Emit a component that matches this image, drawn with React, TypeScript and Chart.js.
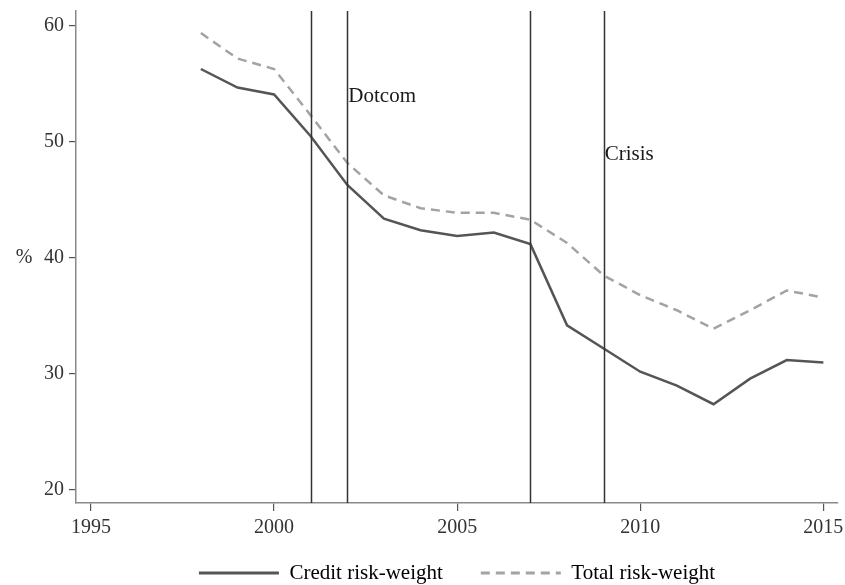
import { useEffect, useRef } from 'react';
import { Chart, registerables } from 'chart.js';

Chart.register(...registerables);

// values
const years = [1998, 1999, 2000, 2001, 2002, 2003, 2004, 2005, 2006, 2007, 2008, 2009, 2010, 2011, 2012, 2013, 2014, 2015];
const creditRW = [56.3, 54.7, 54.1, 50.5, 46.3, 43.4, 42.4, 41.9, 42.2, 41.2, 34.2, 32.2, 30.2, 29.0, 27.4, 29.6, 31.2, 31.0];
const totalRW = [59.4, 57.2, 56.3, 52.3, 48.2, 45.4, 44.3, 43.9, 43.9, 43.3, 41.3, 38.5, 36.8, 35.5, 33.9, 35.5, 37.2, 36.6];

const xTicks = [1995, 2000, 2005, 2010, 2015];
const yTicks = [20, 30, 40, 50, 60];

const eventYears = [2001, 2002, 2007, 2009];
const eventLabels = [
  { year: 2002, text: 'Dotcom', y: 53.9 },
  { year: 2009, text: 'Crisis', y: 48.9 }
];

const yTitle = '%';
const FONT = '"Liberation Serif", "Times New Roman", serif';

const eventPlugin = {
  id: 'events',
  afterLayout(chart: any) {
    // pull the legend up a little, closer to the axis labels
    if (chart.legend) {
      chart.legend.top -= 16.5;
      chart.legend.bottom -= 16.5;
    }
  },
  afterDatasetsDraw(chart: Chart) {
    const { ctx, chartArea, scales } = chart;
    const x = scales.x;
    const y = scales.y;
    ctx.save();
    ctx.strokeStyle = '#333333';
    ctx.lineWidth = 1.5;
    eventYears.forEach((yr) => {
      const px = Math.round(x.getPixelForValue(yr)) + 0.5;
      ctx.beginPath();
      ctx.moveTo(px, chartArea.top);
      ctx.lineTo(px, chartArea.bottom);
      ctx.stroke();
    });
    ctx.fillStyle = '#1a1a1a';
    ctx.font = `21px ${FONT}`;
    ctx.textAlign = 'left';
    ctx.textBaseline = 'middle';
    eventLabels.forEach((l) => {
      ctx.fillText(l.text, x.getPixelForValue(l.year) + 1, y.getPixelForValue(l.y));
    });
    // horizontal y-axis title
    ctx.fillStyle = '#333333';
    ctx.font = `20px ${FONT}`;
    ctx.textAlign = 'center';
    ctx.fillText(yTitle, 24, (chartArea.top + chartArea.bottom) / 2 + 1);
    ctx.restore();
  }
};

export default function App() {
  const canvasRef = useRef<HTMLCanvasElement>(null);
  const chartRef = useRef<Chart | null>(null);

  useEffect(() => {
    if (!canvasRef.current) {
      return;
    }
    if (chartRef.current) {
      chartRef.current.destroy();
    }

    chartRef.current = new Chart(canvasRef.current, {
      type: 'line',
      data: {
        datasets: [
          {
            label: 'Credit risk-weight',
            data: years.map((yr, i) => ({ x: yr, y: creditRW[i] })),
            borderColor: '#555555',
            backgroundColor: '#555555',
            borderWidth: 2.5,
            pointRadius: 0,
            tension: 0
          },
          {
            label: 'Total risk-weight',
            data: years.map((yr, i) => ({ x: yr, y: totalRW[i] })),
            borderColor: '#a3a3a3',
            backgroundColor: '#a3a3a3',
            borderWidth: 2.5,
            borderDash: [9, 6],
            pointRadius: 0,
            tension: 0
          }
        ]
      },
      options: {
        animation: false,
        responsive: true,
        maintainAspectRatio: false,
        layout: { padding: { top: 11, right: 7, left: 0, bottom: -25 } },
        plugins: {
          tooltip: { enabled: false },
          legend: {
            position: 'bottom',
            fullSize: false,
            labels: {
              usePointStyle: true,
              pointStyle: 'line',
              pointStyleWidth: 80,
              boxWidth: 80,
              padding: 38,
              color: '#1a1a1a',
              font: { family: FONT, size: 21 },
              generateLabels(chart: Chart) {
                return chart.data.datasets.map((ds: any, i: number) => ({
                  text: ds.label,
                  strokeStyle: ds.borderColor,
                  fillStyle: ds.borderColor,
                  lineWidth: 3,
                  lineDash: ds.borderDash || [],
                  pointStyle: 'line',
                  hidden: false,
                  datasetIndex: i
                }));
              }
            }
          }
        },
        scales: {
          x: {
            type: 'linear',
            min: 1994.59,
            max: 2015.4,
            afterBuildTicks(scale: any) {
              scale.ticks = xTicks.map((v) => ({ value: v }));
            },
            afterFit(scale: any) {
              scale.height = 38;
              scale.paddingLeft = 0;
              scale.paddingRight = 0;
            },
            grid: { drawOnChartArea: false, drawTicks: true, tickLength: 8, color: '#555555', lineWidth: 1.2 },
            border: { display: true, color: '#8a8a8a', width: 1.5 },
            ticks: {
              color: '#333333',
              padding: 5,
              maxRotation: 0,
              font: { family: FONT, size: 20 },
              callback: (v: any) => String(v)
            }
          },
          y: {
            type: 'linear',
            min: 18.88,
            max: 61.3,
            afterBuildTicks(scale: any) {
              scale.ticks = yTicks.map((v) => ({ value: v }));
            },
            afterFit(scale: any) {
              scale.width = 76;
              scale.paddingTop = 0;
              scale.paddingBottom = 0;
            },
            grid: { drawOnChartArea: false, drawTicks: true, tickLength: 7, color: '#555555', lineWidth: 1.2 },
            border: { display: true, color: '#8a8a8a', width: 1.5 },
            ticks: {
              color: '#333333',
              padding: 5,
              font: { family: FONT, size: 20 },
              callback: (v: any) => String(v)
            }
          }
        }
      },
      plugins: [eventPlugin]
    });

    return () => {
      if (chartRef.current) {
        chartRef.current.destroy();
        chartRef.current = null;
      }
    };
  }, []);

  return (
    <div style={{ position: 'absolute', left: 0, top: 0, width: 845, height: 585, background: '#ffffff' }}>
      <canvas ref={canvasRef} />
    </div>
  );
}
